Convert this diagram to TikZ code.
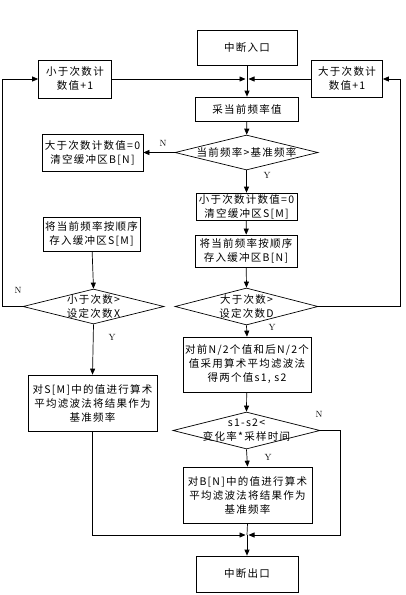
\documentclass[tikz,border=0pt]{standalone}
\usepackage{fontspec}
\newfontfamily\cjk[LetterSpace=12]{Noto Sans CJK SC}
\usetikzlibrary{arrows.meta,shapes.geometric}
\begin{document}
\begin{tikzpicture}[x=1pt,y=-1pt,line width=0.7pt,>={Triangle[length=6pt,width=5pt]},
	box/.style={draw,align=center,inner sep=0pt,font=\cjk\fontsize{10.5}{14}\selectfont},
	decision/.style={draw,diamond,inner sep=0pt},
	dtext/.style={align=center,font=\cjk\fontsize{10.5}{14}\selectfont},
	yn/.style={font=\small}]
	\useasboundingbox (0,0) rectangle (406,595);
	% main column
	\node[box,minimum width=100pt,minimum height=35pt] (entry) at (247,48) {中断入口};
	\node[box,minimum width=103pt,minimum height=24pt] (sample) at (247,109) {采当前频率值};
	\node[decision,minimum width=143pt,minimum height=35pt,label={[dtext]center:当前频率>基准频率}] (cmp) at (246.5,152.5) {};
	\node[box,minimum width=101pt,minimum height=27pt] (clrS) at (246.5,206.5) {小于次数计数值=0\\清空缓冲区S[M]};
	\node[box,minimum width=102pt,minimum height=32pt] (storeB) at (246,251) {将当前频率按顺序\\存入缓冲区B[N]};
	\node[decision,minimum width=143pt,minimum height=37pt,label={[dtext]center:大于次数>\\设定次数D}] (chkD) at (246.5,306.5) {};
	\node[box,minimum width=128pt,minimum height=55pt] (avg2) at (247,364.5) {对前N/2个值和后N/2个\\值采用算术平均滤波法\\得两个值s1, s2};
	\node[decision,minimum width=147pt,minimum height=37pt,label={[dtext]center:s1-s2<\\变化率*采样时间}] (chkR) at (246.5,430.5) {};
	\node[box,minimum width=129pt,minimum height=56pt] (avgB) at (247.5,495) {对B[N]中的值进行算术\\平均滤波法将结果作为\\基准频率};
	\node[box,minimum width=102pt,minimum height=36pt] (exit) at (247,574) {中断出口};
	% side boxes
	\node[box,minimum width=73pt,minimum height=38pt] (incL) at (75,79) {小于次数计\\数值+1};
	\node[box,minimum width=71pt,minimum height=37pt] (incR) at (347,79) {大于次数计\\数值+1};
	\node[box,minimum width=101pt,minimum height=37pt] (clrB) at (92.5,152.5) {大于次数计数值=0\\清空缓冲区B[N]};
	\node[box,minimum width=97pt,minimum height=34pt] (storeS) at (91.5,234) {将当前频率按顺序\\存入缓冲区S[M]};
	\node[decision,minimum width=141pt,minimum height=35pt,label={[dtext]center:小于次数>\\设定次数X}] (chkX) at (93.5,306.5) {};
	\node[box,minimum width=129pt,minimum height=56pt] (avgS) at (92.5,403) {对S[M]中的值进行算术\\平均滤波法将结果作为\\基准频率};
	% junctions
	\coordinate (jtop) at (247,79);
	\coordinate (jbot) at (247,535);
	% Y / N marks
	\node[yn] (nCmp) at (163,143) {N};
	\node[yn] (yCmp) at (267,175) {Y};
	\node[yn] (yD) at (272,327) {Y};
	\node[yn] (nX) at (18,290) {N};
	\node[yn] (yX) at (112,337) {Y};
	\node[yn] (nR) at (319,414) {N};
	\node[yn] (yR) at (268,457) {Y};
	% arrows
	\draw[->] (entry) -- (sample);
	\draw[->,shorten >=1.5pt] (incL) -- (jtop);
	\draw[->,shorten >=1.5pt] (incR) -- (jtop);
	\draw[->] (sample) -- (cmp);
	\draw[->] (cmp.west) -- (clrB.east);
	\draw[->] (cmp.south) -- (clrS.north);
	\draw[->] (clrS) -- (storeB);
	\draw[->] (storeB) -- (chkD.north);
	\draw[->] (chkD.east) -- ++(82,0) |- (incR.east);
	\draw[->] (chkD.south) -- (avg2.north);
	\draw[->] (avg2) -- (chkR.north);
	\draw[->] (chkR.south) -- (avgB.north);
	\draw[->,shorten >=1.5pt] (chkR.east) -- ++(20,0) |- (jbot);
	\draw (avgB.south) -- (jbot);
	\draw[->,shorten >=1.5pt] (avgS.south) |- (jbot);
	\draw[->] (jbot) -- (exit.north);
	\draw[->] (storeS) -- (chkX.north);
	\draw[->] (chkX.west) -- ++(-20,0) |- (incL.west);
	\draw[->] (chkX.south) -- (avgS.north);
\end{tikzpicture}
\end{document}
